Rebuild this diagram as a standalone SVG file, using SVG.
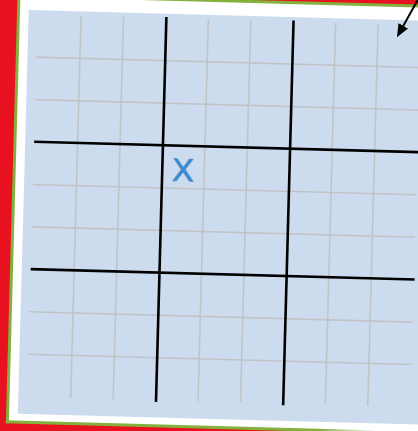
<svg xmlns="http://www.w3.org/2000/svg" width="418" height="431" viewBox="0 0 418 431">
  <defs>
    <linearGradient id="bottomFade" gradientUnits="userSpaceOnUse" x1="330" y1="0" x2="392" y2="0">
      <stop offset="0" stop-color="#84b13e"/>
      <stop offset="1" stop-color="#ffffff"/>
    </linearGradient>
    <marker id="arrowHead" markerUnits="userSpaceOnUse" markerWidth="14" markerHeight="12" refX="0" refY="5.5" orient="auto">
      <path d="M0,0 L13,5.5 L0,11 Z" fill="#000000"/>
    </marker>
    <style>
      .grey { stroke: #c1c3c7; stroke-width: 1.6; fill: none; }
      .bold { stroke: #000000; stroke-width: 2.6; fill: none; }
      .edge { stroke: #84b13e; stroke-width: 3; fill: none; }
      .mark { font-family: "Liberation Sans", Arial, sans-serif; font-size: 32px; fill: #3b8bd0; stroke: #3b8bd0; stroke-width: 0.8; }
    </style>
  </defs>
  <rect id="background" x="0" y="0" width="418" height="431" fill="#e8111f"/>
  <g id="board" transform="rotate(1.55)">
    <rect id="paper" x="18.8" y="-5.3" width="460" height="426.8" fill="#ffffff"/>
    <line class="edge" x1="18.8" y1="-6.8" x2="18.8" y2="423"/>
    <line class="edge" x1="17.3" y1="-5.3" x2="480" y2="-5.3"/>
    <line x1="17.3" y1="421.5" x2="480" y2="421.5" stroke="url(#bottomFade)" stroke-width="3"/>
    <rect id="field" x="29" y="9.3" width="420" height="403.7" fill="#ccdcee"/>
    <g id="minor-grid">
      <line class="grey" x1="81.45" y1="13.7" x2="81.45" y2="396"/>
      <line class="grey" x1="123.9" y1="13.7" x2="123.9" y2="396"/>
      <line class="grey" x1="208.8" y1="13.7" x2="208.8" y2="396"/>
      <line class="grey" x1="251.25" y1="13.7" x2="251.25" y2="396"/>
      <line class="grey" x1="336.15" y1="13.7" x2="336.15" y2="396"/>
      <line class="grey" x1="378.6" y1="13.7" x2="378.6" y2="396"/>
      <line class="grey" x1="38" y1="56.15" x2="421" y2="56.15"/>
      <line class="grey" x1="38" y1="98.6" x2="421" y2="98.6"/>
      <line class="grey" x1="38" y1="183.5" x2="421" y2="183.5"/>
      <line class="grey" x1="38" y1="225.95" x2="421" y2="225.95"/>
      <line class="grey" x1="38" y1="310.85" x2="421" y2="310.85"/>
      <line class="grey" x1="38" y1="353.3" x2="421" y2="353.3"/>
    </g>
    <g id="major-grid">
      <line class="bold" x1="166.8" y1="12.5" x2="166.8" y2="397.5"/>
      <line class="bold" x1="294" y1="12.5" x2="294" y2="397.5"/>
      <line class="bold" x1="38" y1="140.8" x2="422" y2="140.8"/>
      <line class="bold" x1="38" y1="268.2" x2="422" y2="268.2"/>
    </g>
    <g id="cell-x">
      <text class="mark" x="187.6" y="176" text-anchor="middle">X</text>
    </g>
  </g>
  <g id="connectors">
    <line x1="425" y1="-13" x2="403.3" y2="25.8" stroke="#000000" stroke-width="2" marker-end="url(#arrowHead)"/>
  </g>
</svg>
